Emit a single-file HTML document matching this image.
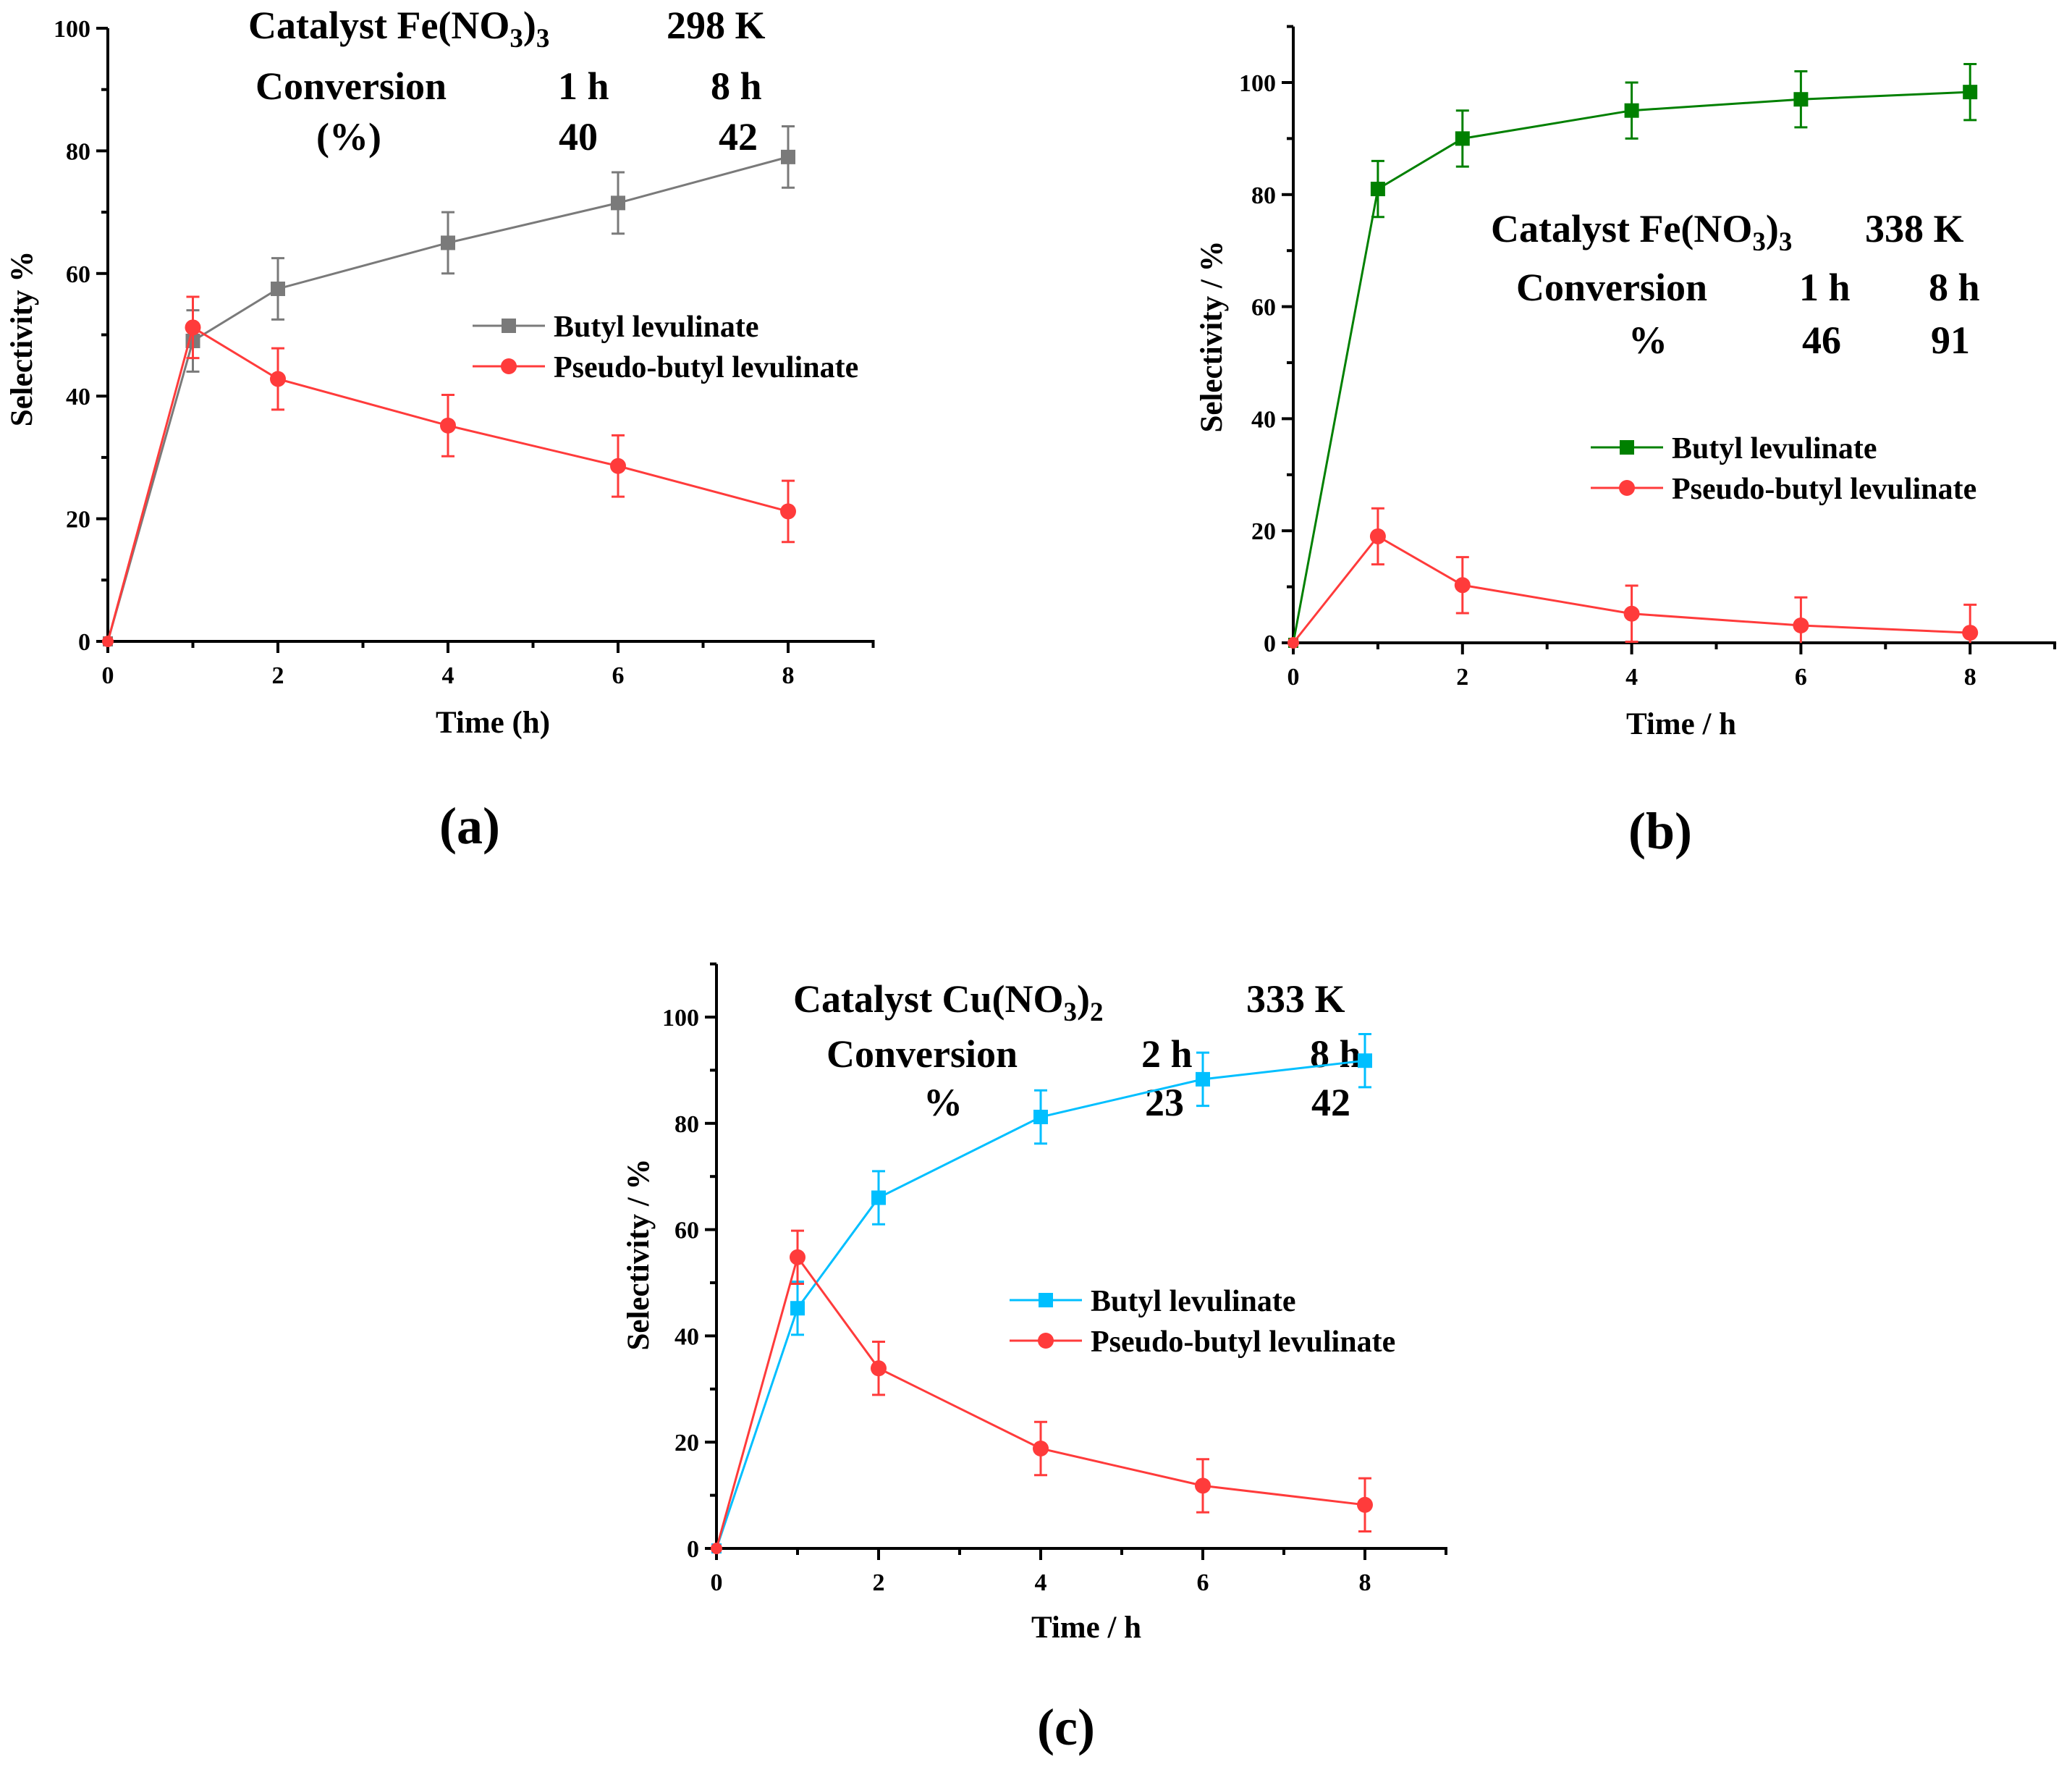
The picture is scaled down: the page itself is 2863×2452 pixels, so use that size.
<!DOCTYPE html>
<html><head><meta charset="utf-8">
<style>
html,body{margin:0;padding:0;background:#fff;}
svg{display:block;}
text{font-family:"Liberation Serif",serif;font-weight:bold;fill:#000;}
</style></head>
<body>
<svg id="fig" width="2863" height="2452" viewBox="0 0 2863 2452" xmlns="http://www.w3.org/2000/svg"></svg>
<script>
// ---- data ----
const timesA = [0, 1, 2, 4, 6, 8];
const blA = [0, 49, 57.5, 65, 71.5, 79];
const pblA = [0, 51.2, 42.8, 35.2, 28.6, 21.2];
const timesB = [0, 1, 2, 4, 6, 8];
const blB = [0, 81, 90, 95, 97, 98.3];
const pblB = [0, 19, 10.3, 5.2, 3.1, 1.8];
const timesC = [0, 1, 2, 4, 6, 8];
const blC = [0, 45.2, 66, 81.2, 88.3, 91.8];
const pblC = [0, 54.8, 33.9, 18.8, 11.8, 8.2];
const errA = [0, 5, 5, 5, 5, 5];
const errB = [0, 5, 5, 5, 5, 5];
const errC = [0, 5, 5, 5, 5, 5];
const xTickLabels = ["0", "2", "4", "6", "8"];
const yTickLabels = ["0", "20", "40", "60", "80", "100"];

const NS = "http://www.w3.org/2000/svg";
const svg = document.getElementById('fig');
function mk(tag, attrs, parent) {
  const e = document.createElementNS(NS, tag);
  for (const k in attrs) e.setAttribute(k, attrs[k]);
  (parent || svg).appendChild(e);
  return e;
}
function txt(str, x, y, size, anchor, parent, name) {
  const t = mk('text', {x: x, y: y, 'font-size': size, 'text-anchor': anchor || 'start'}, parent);
  t.textContent = str;
  
  
  return t;
}

const panels = [
  {id: 'a', x0: 149, y0: 886, ux: 117.5, uy: 8.47, ymax: 100, times: timesA, bl: blA, pbl: pblA, err: errA, blColor: '#7a7a7a',
   ytitle: 'Selectivity %', ytx: 44, yty: 468, xtitle: 'Time (h)', xtx: 681, xty: 1012, lab: '(a)', labx: 649, laby: 1165,
   legX: 653, legY: 450,
   ann: [{t:'Catalyst Fe(NO', sub:'3', after:')', sub2:'3', x:343, y:53}, {t:'298 K', x:921, y:53},
         {t:'Conversion', x:353, y:137}, {t:'1 h', x:771, y:137}, {t:'8 h', x:982, y:137},
         {t:'(%)', x:437, y:207}, {t:'40', x:772, y:207}, {t:'42', x:993, y:207}]},
  {id: 'b', x0: 1787, y0: 888, ux: 116.9, uy: 7.74, ymax: 110, times: timesB, bl: blB, pbl: pblB, err: errB, blColor: '#008000',
   ytitle: 'Selectivity / %', ytx: 1688, yty: 465, xtitle: 'Time / h', xtx: 2323, xty: 1014, lab: '(b)', labx: 2294, laby: 1172,
   legX: 2198, legY: 618,
   ann: [{t:'Catalyst Fe(NO', sub:'3', after:')', sub2:'3', x:2060, y:334}, {t:'338 K', x:2577, y:334},
         {t:'Conversion', x:2095, y:415}, {t:'1 h', x:2486, y:415}, {t:'8 h', x:2665, y:415},
         {t:'%', x:2250, y:488}, {t:'46', x:2490, y:488}, {t:'91', x:2668, y:488}]},
  {id: 'c', x0: 990, y0: 2139, ux: 112, uy: 7.34, ymax: 110, times: timesC, bl: blC, pbl: pblC, err: errC, blColor: '#00bfff',
   ytitle: 'Selectivity / %', ytx: 896, yty: 1733, xtitle: 'Time / h', xtx: 1501, xty: 2262, lab: '(c)', labx: 1473, laby: 2410,
   legX: 1395, legY: 1796,
   ann: [{t:'Catalyst Cu(NO', sub:'3', after:')', sub2:'2', x:1096, y:1398}, {t:'333 K', x:1722, y:1398},
         {t:'Conversion', x:1142, y:1474}, {t:'2 h', x:1577, y:1474}, {t:'8 h', x:1810, y:1474},
         {t:'%', x:1276, y:1541}, {t:'23', x:1582, y:1541}, {t:'42', x:1812, y:1541}]}
];

const RED = '#ff3b3b';

panels.forEach(p => {
  const g = mk('g', {});
  
  
  const X = v => p.x0 + v * p.ux;
  const Y = v => p.y0 - v * p.uy;

  const ax = mk('g', {stroke: '#000', 'stroke-width': 4, fill: 'none'}, g);
  
  
  mk('line', {x1: X(0), y1: Y(0), x2: X(9) + 2, y2: Y(0)}, ax);
  mk('line', {x1: X(0), y1: Y(0) + 2, x2: X(0), y2: Y(p.ymax)}, ax);
  for (let i = 0; i <= 9; i++) {
    const len = (i % 2 === 0) ? 16 : 9;
    mk('line', {x1: X(i), y1: Y(0), x2: X(i), y2: Y(0) + len}, ax);
  }
  for (let i = 0; i <= p.ymax; i += 10) {
    const len = (i % 20 === 0) ? 16 : 9;
    mk('line', {x1: X(0), y1: Y(i), x2: X(0) - len, y2: Y(i)}, ax);
  }
  xTickLabels.forEach(s => txt(s, X(+s), Y(0) + 58, 34, 'middle', g, 'x-tick-label'));
  yTickLabels.forEach(s => txt(s, X(0) - 24, Y(+s) + 12, 34, 'end', g, 'y-tick-label'));

  txt(p.xtitle, p.xtx, p.xty, 43, 'middle', g, 'x-axis-title');
  const yt = txt(p.ytitle, 0, 0, 43, 'middle', g, 'y-axis-title');
  yt.setAttribute('transform', 'translate(' + p.ytx + ',' + p.yty + ') rotate(-90)');
  const pl = txt(p.lab, p.labx, p.laby, 72, 'middle', g, 'panel-label');
  pl.setAttribute('font-weight', 'normal');

  p.ann.forEach(a => {
    const t = txt(a.t, a.x, a.y, 54, 'start', g, 'annotation');
    if (a.sub) {
      const s1 = mk('tspan', {'font-size': 37, dy: 12}, t); s1.textContent = a.sub;
      const s2 = mk('tspan', {dy: -12}, t); s2.textContent = a.after;
      const s3 = mk('tspan', {'font-size': 37, dy: 12}, t); s3.textContent = a.sub2;
    }
  });

  function series(vals, color, marker, name) {
    const sg = mk('g', {}, g);
    
    
    const pts = p.times.map((t, i) => X(t) + ',' + Y(vals[i])).join(' ');
    mk('polyline', {points: pts, fill: 'none', stroke: color, 'stroke-width': 3}, sg);
    p.times.forEach((t, i) => {
      const e = p.err[i];
      if (e > 0) {
        const eb = mk('g', {stroke: color, 'stroke-width': 3}, sg);
        
        
        mk('line', {x1: X(t), y1: Y(vals[i] + e), x2: X(t), y2: Y(Math.max(0, vals[i] - e))}, eb);
        mk('line', {x1: X(t) - 9, y1: Y(vals[i] + e), x2: X(t) + 9, y2: Y(vals[i] + e)}, eb);
        if (vals[i] - e > 0) mk('line', {x1: X(t) - 9, y1: Y(vals[i] - e), x2: X(t) + 9, y2: Y(vals[i] - e)}, eb);
      }
      const r = (i === 0) ? 7 : 10;
      let m;
      if (marker === 'sq') m = mk('rect', {x: X(t) - r, y: Y(vals[i]) - r, width: 2 * r, height: 2 * r, fill: color}, sg);
      else m = mk('circle', {cx: X(t), cy: Y(vals[i]), r: r + 1, fill: color}, sg);
      
      
    });
  }
  series(p.bl, p.blColor, 'sq', 'series-butyl-levulinate');
  series(p.pbl, RED, 'ci', 'series-pseudo-butyl-levulinate');

  const lg = mk('g', {}, g);
  
  
  const rows = [{c: p.blColor, m: 'sq', t: 'Butyl levulinate'}, {c: RED, m: 'ci', t: 'Pseudo-butyl levulinate'}];
  rows.forEach((row, k) => {
    const yy = p.legY + k * 56;
    const le = mk('g', {}, lg);
    
    
    mk('line', {x1: p.legX, y1: yy, x2: p.legX + 100, y2: yy, stroke: row.c, 'stroke-width': 3}, le);
    if (row.m === 'sq') mk('rect', {x: p.legX + 40, y: yy - 10, width: 20, height: 20, fill: row.c}, le);
    else mk('circle', {cx: p.legX + 50, cy: yy, r: 11, fill: row.c}, le);
    txt(row.t, p.legX + 112, yy + 15, 42, 'start', le, 'legend-text');
  });
});
</script>
</body></html>
